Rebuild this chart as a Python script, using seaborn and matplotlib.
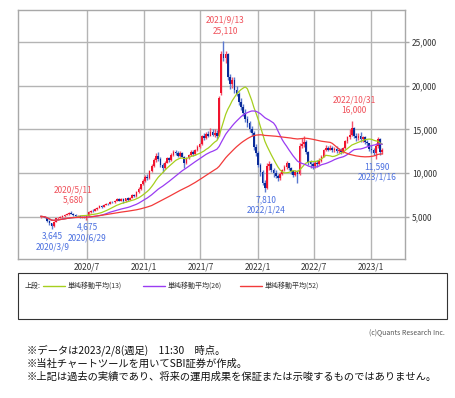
import numpy as np
import pandas as pd
import matplotlib
matplotlib.use("Agg")
import matplotlib.pyplot as plt
from matplotlib.lines import Line2D
from matplotlib.patches import Rectangle
import seaborn as sns

# ---------- Data (weekly candles) ----------
weeks = pd.date_range("2020-02-03", periods=158, freq="W-MON")

opens = [
    # 2020
    4950, 5050, 4980, 4850, 4500, 4250, 3900, 4400, 4800, 4900, 5000, 5100, 5250, 5350,
    5450, 5350, 5200, 5050, 5100, 4950, 5000, 4900, 5100, 5500, 5700, 5650, 5850, 6050,
    6200, 6150, 6350, 6500, 6450, 6700, 6650, 6800, 7000, 6850, 7050, 6750, 7100, 6950,
    7200, 7450, 7350, 7800, 8200, 8700,
    # 2021
    9100, 9600, 9400, 10200, 10800, 11500, 12000, 11600, 10900, 10600, 11200, 11700, 11500,
    12100, 12400, 12300, 12000, 12300, 11900, 11100, 11700, 12100, 12400, 12200, 12600,
    13000, 13300, 14200, 14000, 14500, 14300, 14700, 14400, 14600, 14300, 19200, 23700,
    23200, 23600, 21000, 20200, 20700, 19500, 19100, 18200, 17600, 16900, 16200, 15700,
    15000, 14600, 13000,
    # 2022
    12300, 10900, 10100, 8900, 8300, 10800, 11000, 10300, 10000, 9700, 9400, 9900, 10300,
    10700, 11100, 10600, 10200, 9800, 10100, 9900, 13100, 13300, 13600, 12400, 11300,
    11000, 10800, 11200, 11000, 11400, 11900, 12600, 12900, 12700, 12900, 12600, 12800,
    12500, 12700, 12400, 12900, 13700, 14100, 14400, 15200, 14300, 14000, 14300, 13900,
    14100, 13600, 13400,
    # 2023
    12800, 12600, 12300, 13100, 13900, 12400,
]
highs = [
    5100, 5120, 5020, 4900, 4600, 4300, 4500, 4900, 5000, 5100, 5150, 5300, 5450, 5550,
    5680, 5400, 5300, 5200, 5150, 5100, 5050, 5150, 5600, 5800, 5850, 5950, 6150, 6300,
    6300, 6450, 6600, 6600, 6800, 6850, 6900, 7100, 7100, 7150, 7100, 7200, 7250, 7300,
    7550, 7600, 7900, 8350, 8800, 9300,
    9800, 9900, 10400, 11000, 11700, 12300, 12400, 11800, 11200, 11400, 11900, 11900, 12300,
    12600, 12600, 12500, 12500, 12400, 12000, 11800, 12200, 12600, 12600, 12800, 13200,
    13500, 14400, 14600, 14700, 14800, 15200, 15000, 15000, 14900, 18800, 24000, 25110,
    24000, 23800, 21400, 21000, 21000, 20000, 19300, 18600, 17900, 17300, 16600, 16000,
    15400, 14800, 13300,
    12500, 11100, 10300, 9200, 11100, 11400, 11200, 10600, 10300, 9900, 10100, 10500, 10900,
    11400, 11200, 10700, 10400, 10300, 10400, 13400, 14000, 14200, 13800, 12500, 11500,
    11300, 11400, 11500, 11700, 12100, 12800, 13200, 13100, 13200, 13100, 13000, 13100,
    12900, 12900, 13000, 13800, 14300, 15000, 16000, 15300, 14600, 14600, 14700, 14300,
    14200, 13800, 13500,
    13200, 12900, 13400, 14100, 14000, 12900,
]
lows = [
    4900, 4950, 4850, 4350, 4100, 3645, 3800, 4350, 4650, 4800, 4900, 5000, 5150, 5250,
    5300, 5100, 4950, 4950, 4850, 4850, 4800, 4675, 5050, 5450, 5550, 5600, 5800, 6000,
    6050, 6100, 6300, 6350, 6400, 6550, 6600, 6750, 6750, 6800, 6600, 6700, 6850, 6900,
    7150, 7250, 7300, 7750, 8100, 8600,
    9000, 9200, 9300, 10100, 10700, 11300, 11400, 10700, 10150, 10500, 11100, 11300, 11400,
    12000, 12100, 11900, 11850, 11800, 10600, 11000, 11600, 12000, 12000, 12100, 12500,
    12900, 13200, 13800, 13900, 14100, 14200, 14200, 14100, 13900, 14200, 19000, 22800,
    22600, 20700, 19600, 19700, 19200, 18800, 17800, 17200, 16600, 15900, 15300, 14700,
    14200, 12700, 12000,
    10700, 9700, 8600, 7810, 8200, 10400, 10100, 9600, 9400, 9100, 9200, 9800, 10200,
    10500, 10400, 9900, 9600, 9700, 8900, 9800, 12900, 13000, 12200, 10900, 10600,
    10500, 10600, 10700, 10900, 11300, 11800, 12500, 12500, 12600, 12400, 12400, 12300,
    12300, 12200, 12300, 12800, 13500, 13900, 14300, 14000, 13700, 13800, 13600, 13600,
    13300, 13100, 12500,
    12300, 12100, 11590, 12900, 12100, 12200,
]
closes = [
    5050, 4980, 4900, 4500, 4300, 3900, 4400, 4800, 4900, 5000, 5100, 5250, 5350, 5450,
    5350, 5200, 5050, 5100, 4950, 5000, 4900, 5100, 5500, 5700, 5650, 5850, 6050, 6200,
    6150, 6350, 6500, 6450, 6700, 6650, 6800, 7000, 6850, 7050, 6750, 7100, 6950, 7200,
    7450, 7350, 7800, 8200, 8700, 9100,
    9600, 9400, 10200, 10800, 11500, 12000, 11600, 10900, 10600, 11200, 11700, 11500, 12100,
    12400, 12300, 12000, 12300, 11900, 11100, 11700, 12100, 12400, 12200, 12600, 13000,
    13300, 14200, 14000, 14500, 14300, 14700, 14400, 14600, 14300, 18600, 23700, 23200,
    23600, 21000, 20200, 20700, 19500, 19100, 18200, 17600, 16900, 16200, 15700, 15000,
    14600, 13000, 12300,
    10900, 10100, 8900, 8300, 10800, 11000, 10300, 10000, 9700, 9400, 9900, 10300, 10700,
    11100, 10600, 10200, 9800, 10100, 9900, 13100, 13300, 13600, 12400, 11300, 11000,
    10800, 11200, 11000, 11400, 11900, 12600, 12900, 12700, 12900, 12600, 12800, 12500,
    12700, 12400, 12900, 13700, 14100, 14400, 15200, 14300, 14000, 14300, 13900, 14100,
    13600, 13400, 12800,
    12600, 12300, 13100, 13900, 12400, 12600,
]

ma_windows = [13, 26, 52]
ma_colors = ["#a6cf1e", "#9a3cf2", "#f23a3a"]
ma_labels = ["単純移動平均(13)", "単純移動平均(26)", "単純移動平均(52)"]

x_ticks = ["2020-07-01", "2021-01-01", "2021-07-01", "2022-01-01", "2022-07-01", "2023-01-01"]
x_tick_labels = ["2020/7", "2021/1", "2021/7", "2022/1", "2022/7", "2023/1"]
y_ticks = [5000, 10000, 15000, 20000, 25000]

# (date, kind, label) - kind "high" puts the label above, "low" below
marks = [
    ("2020-03-09", "low", "3,645\n2020/3/9"),
    ("2020-05-11", "high", "2020/5/11\n5,680"),
    ("2020-06-29", "low", "4,675\n2020/6/29"),
    ("2021-09-13", "high", "2021/9/13\n25,110"),
    ("2022-01-24", "low", "7,810\n2022/1/24"),
    ("2022-10-31", "high", "2022/10/31\n16,000"),
    ("2023-01-16", "low", "11,590\n2023/1/16"),
]

df = pd.DataFrame({"date": weeks, "open": opens, "high": highs, "low": lows, "close": closes})
for w in ma_windows:
    df[f"ma{w}"] = df["close"].rolling(w, min_periods=1).mean()

# ---------- Figure ----------
sns.set_theme(style="white")
plt.rcParams["font.family"] = ["Noto Sans CJK JP", "DejaVu Sans"]

W, H = 455, 398
fx = lambda x: x / W
fy = lambda y: 1 - y / H

fig = plt.figure(figsize=(4.55, 3.98), dpi=100)
ax = fig.add_axes([fx(18), fy(259.3), (405 - 18) / W, (259.3 - 10) / H])

up = df["close"] >= df["open"]
body_col = np.where(up, "#f0142e", "#0a2a98")
wick_col = np.where(up, "#f5506a", "#5a78d0")
ax.vlines(df["date"], df["low"], df["high"], colors=wick_col, lw=1.0, zorder=3)
ax.bar(df["date"], (df["close"] - df["open"]).abs().clip(lower=60),
       bottom=df[["open", "close"]].min(axis=1), width=5.4,
       color=body_col, linewidth=0, zorder=4)

for w, c in zip(ma_windows, ma_colors):
    sns.lineplot(data=df, x="date", y=f"ma{w}", color=c, lw=0.9, ax=ax, zorder=5)

ax.set_xlim(pd.Timestamp("2019-11-22"), pd.Timestamp("2023-04-20"))
ax.set_ylim(115, 28700)
ax.set_xlabel("")
ax.set_ylabel("")

ax.set_xticks(pd.to_datetime(x_ticks))
ax.set_xticklabels(x_tick_labels)
ax.set_yticks(y_ticks)
ax.set_yticklabels([f"{v:,}" for v in y_ticks])
ax.yaxis.tick_right()
ax.tick_params(axis="y", length=3, width=1, color="#a8a8a8", labelsize=6,
               labelcolor="#333333", pad=2, right=True, left=False)
ax.tick_params(axis="x", length=0, labelsize=6, labelcolor="#333333", pad=2.5)
ax.grid(True, color="#b4b4b4", lw=1.0)
ax.set_axisbelow(True)
for s in ax.spines.values():
    s.set_color("#a8a8a8")
    s.set_linewidth(1.0)

# peak / trough labels
for d, kind, txt in marks:
    row = df[df["date"] == pd.Timestamp(d)].iloc[0]
    if kind == "high":
        ax.annotate(txt, (row["date"], row["high"]), xytext=(2, 6),
                    textcoords="offset pixels", ha="center", va="bottom",
                    fontsize=6, color="#f0505a", linespacing=1.25, zorder=6)
    else:
        ax.annotate(txt, (row["date"], row["low"]), xytext=(1, -3),
                    textcoords="offset pixels", ha="center", va="top",
                    fontsize=6, color="#4a6fe0", linespacing=1.25, zorder=6)

# ---------- Legend box ----------
fig.add_artist(Rectangle((fx(18), fy(319)), (447 - 18) / W, (319 - 273) / H,
                         transform=fig.transFigure, fill=False, ec="#333333", lw=0.8))
fig.text(fx(25), fy(286), "上段:", fontsize=5, va="center", ha="left", color="#333333")
leg_x = [43, 143, 240]
for lx, c, lab in zip(leg_x, ma_colors, ma_labels):
    fig.add_artist(Line2D([fx(lx), fx(lx + 22)], [fy(286), fy(286)],
                          transform=fig.transFigure, color=c, lw=1.0))
    fig.text(fx(lx + 25), fy(286), lab, fontsize=5, va="center", ha="left", color="#333333")

fig.text(fx(445), fy(332), "(c)Quants Research Inc.", fontsize=5, ha="right",
         va="center", color="#555555")

notes = [
    "※データは2023/2/8(週足)　11:30　時点。",
    "※当社チャートツールを用いてSBI証券が作成。",
    "※上記は過去の実績であり、将来の運用成果を保証または示唆するものではありません。",
]
for i, t in enumerate(notes):
    fig.text(fx(27), fy(350 + 13.5 * i), t, fontsize=7.4, ha="left", va="center",
             color="#111111")

fig.savefig("out.png", dpi=100)
plt.close(fig)
